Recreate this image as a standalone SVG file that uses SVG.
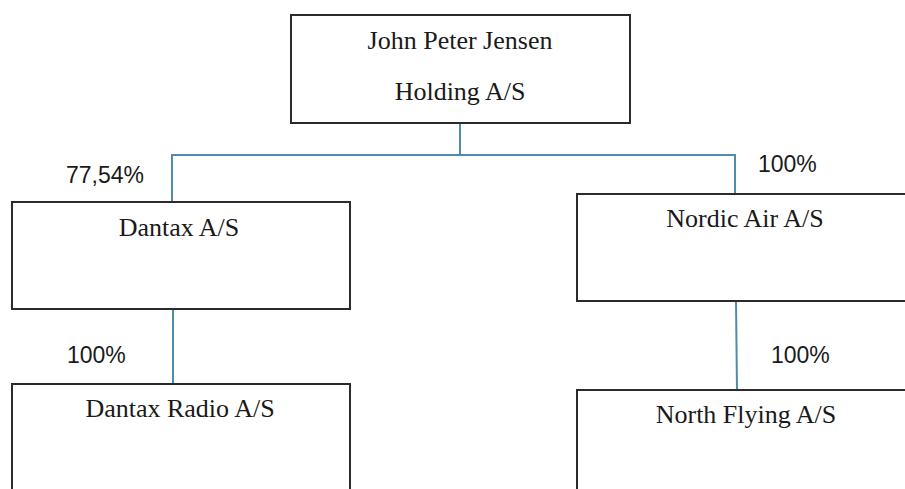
<svg xmlns="http://www.w3.org/2000/svg" width="905" height="489" viewBox="0 0 905 489">
<style>
.box{fill:#fff;stroke:#2b2b2b;stroke-width:2}
.name{font-family:"Liberation Serif","Times New Roman",serif;font-size:26px;fill:#1a1a1a;text-anchor:middle}
.pct{font-family:"Liberation Sans",Arial,sans-serif;font-size:23px;fill:#1a1a1a}
.conn{fill:none;stroke:#4f8cab;stroke-width:2}
</style>
<rect width="905" height="489" fill="#fff"/>
<g id="connectors">
<path class="conn" d="M460 123 V155 M172 202 V155 H735 V194"/>
<path class="conn" d="M173 309 V384"/>
<path class="conn" d="M736 301 L737 390"/>
</g>
<g id="holding">
<rect class="box" x="291" y="15" width="339" height="108"/>
<text class="name" x="460" y="49">John Peter Jensen</text>
<text class="name" x="460" y="100">Holding A/S</text>
</g>
<g id="dantax">
<rect class="box" x="12" y="202" width="338" height="107"/>
<text class="name" x="179" y="236">Dantax A/S</text>
</g>
<g id="nordic">
<rect class="box" x="577" y="194" width="340" height="107"/>
<text class="name" x="745" y="227">Nordic Air A/S</text>
</g>
<g id="dantax-radio">
<rect class="box" x="12" y="384" width="338" height="120"/>
<text class="name" x="180" y="417">Dantax Radio A/S</text>
</g>
<g id="north-flying">
<rect class="box" x="577" y="390" width="340" height="120"/>
<text class="name" x="746" y="423">North Flying A/S</text>
</g>
<g id="labels">
<text class="pct" x="66" y="183">77,54%</text>
<text class="pct" x="758" y="172">100%</text>
<text class="pct" x="67" y="363">100%</text>
<text class="pct" x="771" y="363">100%</text>
</g>
</svg>
